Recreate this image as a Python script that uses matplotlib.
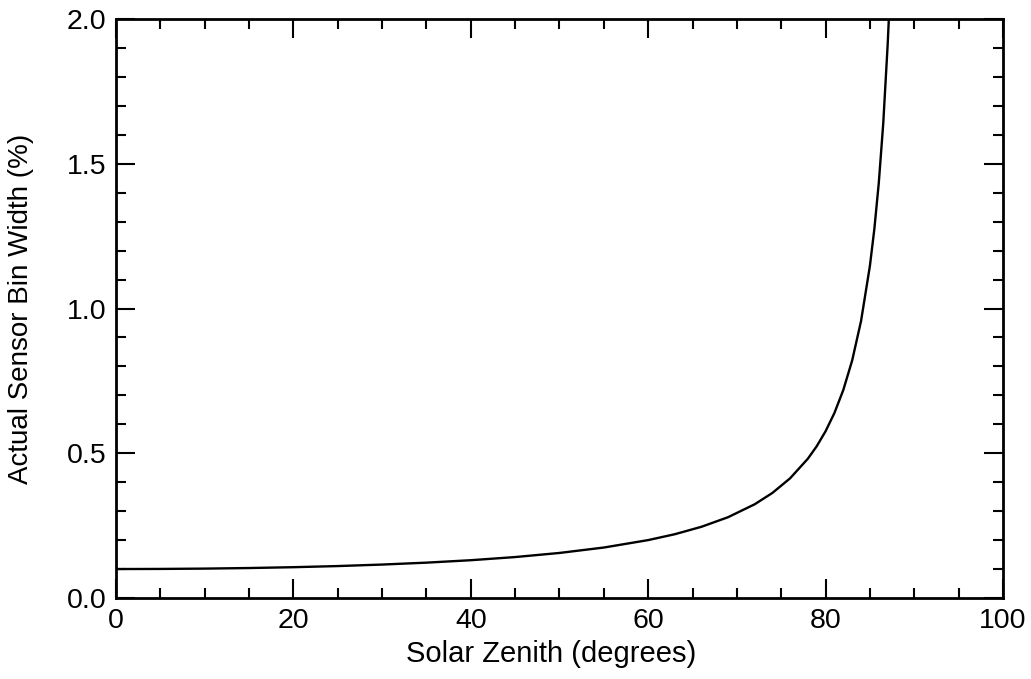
import matplotlib
matplotlib.use("Agg")
import matplotlib.pyplot as plt
from matplotlib.ticker import MultipleLocator

plt.rcParams['font.family'] = ['Liberation Sans', 'DejaVu Sans']

# values
zenith = [0, 5, 10, 15, 20, 25, 30, 35, 40, 45, 50, 55, 60, 63, 66, 69,
          72, 74, 76, 78, 79, 80, 81, 82, 83, 84, 85, 85.5, 86, 86.5, 87, 87.15]
bin_width = [0.100, 0.1004, 0.1015, 0.1035, 0.1064, 0.1103, 0.1155, 0.1221,
             0.1305, 0.1414, 0.1556, 0.1743, 0.200, 0.2203, 0.2459, 0.2790,
             0.3236, 0.3628, 0.4134, 0.4810, 0.5241, 0.5759, 0.6392, 0.7185,
             0.8206, 0.9567, 1.1474, 1.2745, 1.4336, 1.6380, 1.9107, 2.011]

fig = plt.figure(figsize=(10.31, 6.79), dpi=100)
ax = fig.add_axes([0.1125, 0.1193, 0.8603, 0.8527])

ax.plot(zenith, bin_width, color='black', lw=1.7)

ax.set_xlim(0, 100)
ax.set_ylim(0, 2.0)
ax.xaxis.set_major_locator(MultipleLocator(20))
ax.xaxis.set_minor_locator(MultipleLocator(5))
ax.yaxis.set_major_locator(MultipleLocator(0.5))
ax.yaxis.set_minor_locator(MultipleLocator(0.1))
ax.yaxis.set_major_formatter(plt.FormatStrFormatter('%.1f'))

ax.tick_params(which='both', direction='in', top=True, right=True,
               labelsize=20.5, width=1.5)
ax.tick_params(axis='x', pad=7)
ax.tick_params(axis='y', pad=7)
ax.tick_params(which='major', length=14)
ax.tick_params(which='minor', length=7)
for s in ax.spines.values():
    s.set_linewidth(2)

ax.set_xlabel('Solar Zenith (degrees)', fontsize=21)
ax.set_ylabel('Actual Sensor Bin Width (%)', fontsize=20)
ax.xaxis.set_label_coords(0.491, -0.073)
ax.yaxis.set_label_coords(-0.092, 0.5)

fig.savefig('out.png', dpi=100)
